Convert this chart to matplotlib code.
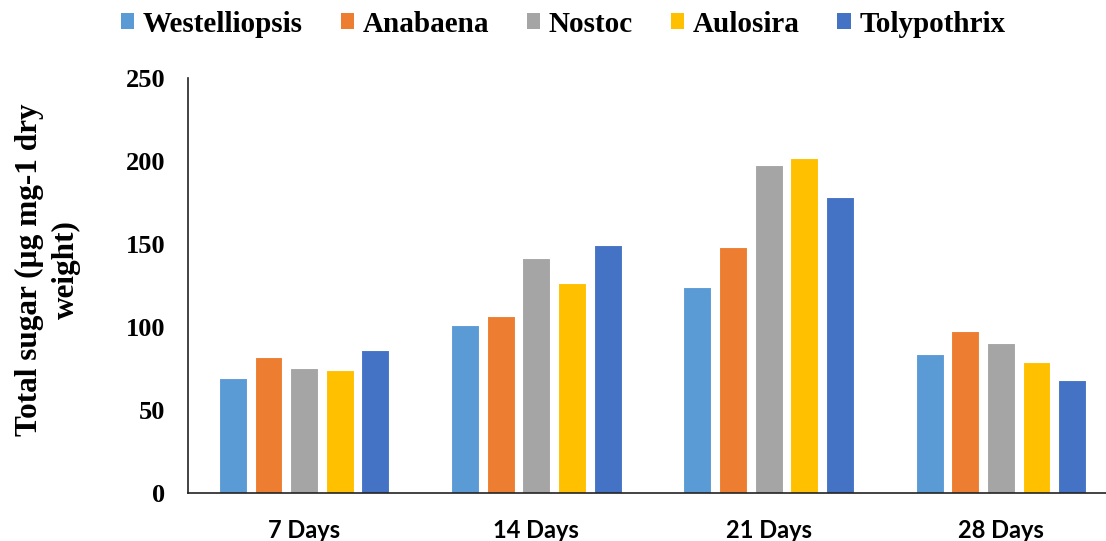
import matplotlib
matplotlib.use("Agg")
import matplotlib.pyplot as plt
from matplotlib.patches import Patch
import numpy as np

# Total sugar content of five cyanobacteria over the incubation period
days = ["7 Days", "14 Days", "21 Days", "28 Days"]
species = ["Westelliopsis", "Anabaena", "Nostoc", "Aulosira", "Tolypothrix"]
westelliopsis = [69.5, 101.0, 124.3, 84.0]
anabaena = [81.8, 106.6, 148.2, 97.3]
nostoc = [75.5, 141.6, 197.8, 90.3]
aulosira = [74.0, 126.5, 201.6, 78.8]
tolypothrix = [86.4, 149.4, 178.3, 68.0]
yticks = [0, 50, 100, 150, 200, 250]

series = [westelliopsis, anabaena, nostoc, aulosira, tolypothrix]
colors = ["#5B9BD5", "#ED7D31", "#A5A5A5", "#FFC000", "#4472C4"]

W, H = 1106, 541
fig = plt.figure(figsize=(W / 100, H / 100), dpi=100)
# axes runs slightly past the right edge of the figure
ax = fig.add_axes([188 / W, (H - 493) / H, (1117 - 188) / W, (493 - 78) / H])

x = np.arange(len(days))
step = 0.1535
width = 0.12
for i, (vals, col) in enumerate(zip(series, colors)):
    ax.bar(x + (i - 2) * step, vals, width, color=col, edgecolor="white",
           linewidth=0.8, label=species[i], zorder=2)

ax.set_xlim(-0.5, 3.5)
ax.set_ylim(0, 250)
ax.set_yticks(yticks)
ax.set_yticklabels([str(v) for v in yticks], family="Liberation Serif",
                   fontweight="bold", fontsize=19)
ax.set_xticks(x)
ax.set_xticklabels(days, family="Lato", fontweight="bold", fontsize=17)
ax.tick_params(axis="y", length=0, pad=16.5)
ax.tick_params(axis="x", length=0, pad=18.5)

for s in ["top", "right"]:
    ax.spines[s].set_visible(False)
for s in ["left", "bottom"]:
    ax.spines[s].set_color("#222222")
    ax.spines[s].set_linewidth(1.2)

fig.text(48 / W, 1 - 270 / H, "Total sugar (µg mg-1 dry\nweight)",
         rotation=90, ha="center", va="center", family="Liberation Serif",
         fontweight="bold", fontsize=22.5, linespacing=1.35, multialignment="center")

handles = [Patch(facecolor=c, edgecolor="none") for c in colors]
fig.legend(handles, species, loc="center", bbox_to_anchor=(563 / W, 1 - 24 / H),
           ncol=5, frameon=False, prop={"family": "Liberation Serif",
                                        "weight": "bold", "size": 21},
           handlelength=0.45, handleheight=0.5, handletextpad=0.3,
           columnspacing=1.3, borderpad=0)

fig.savefig("out.png", dpi=100)
